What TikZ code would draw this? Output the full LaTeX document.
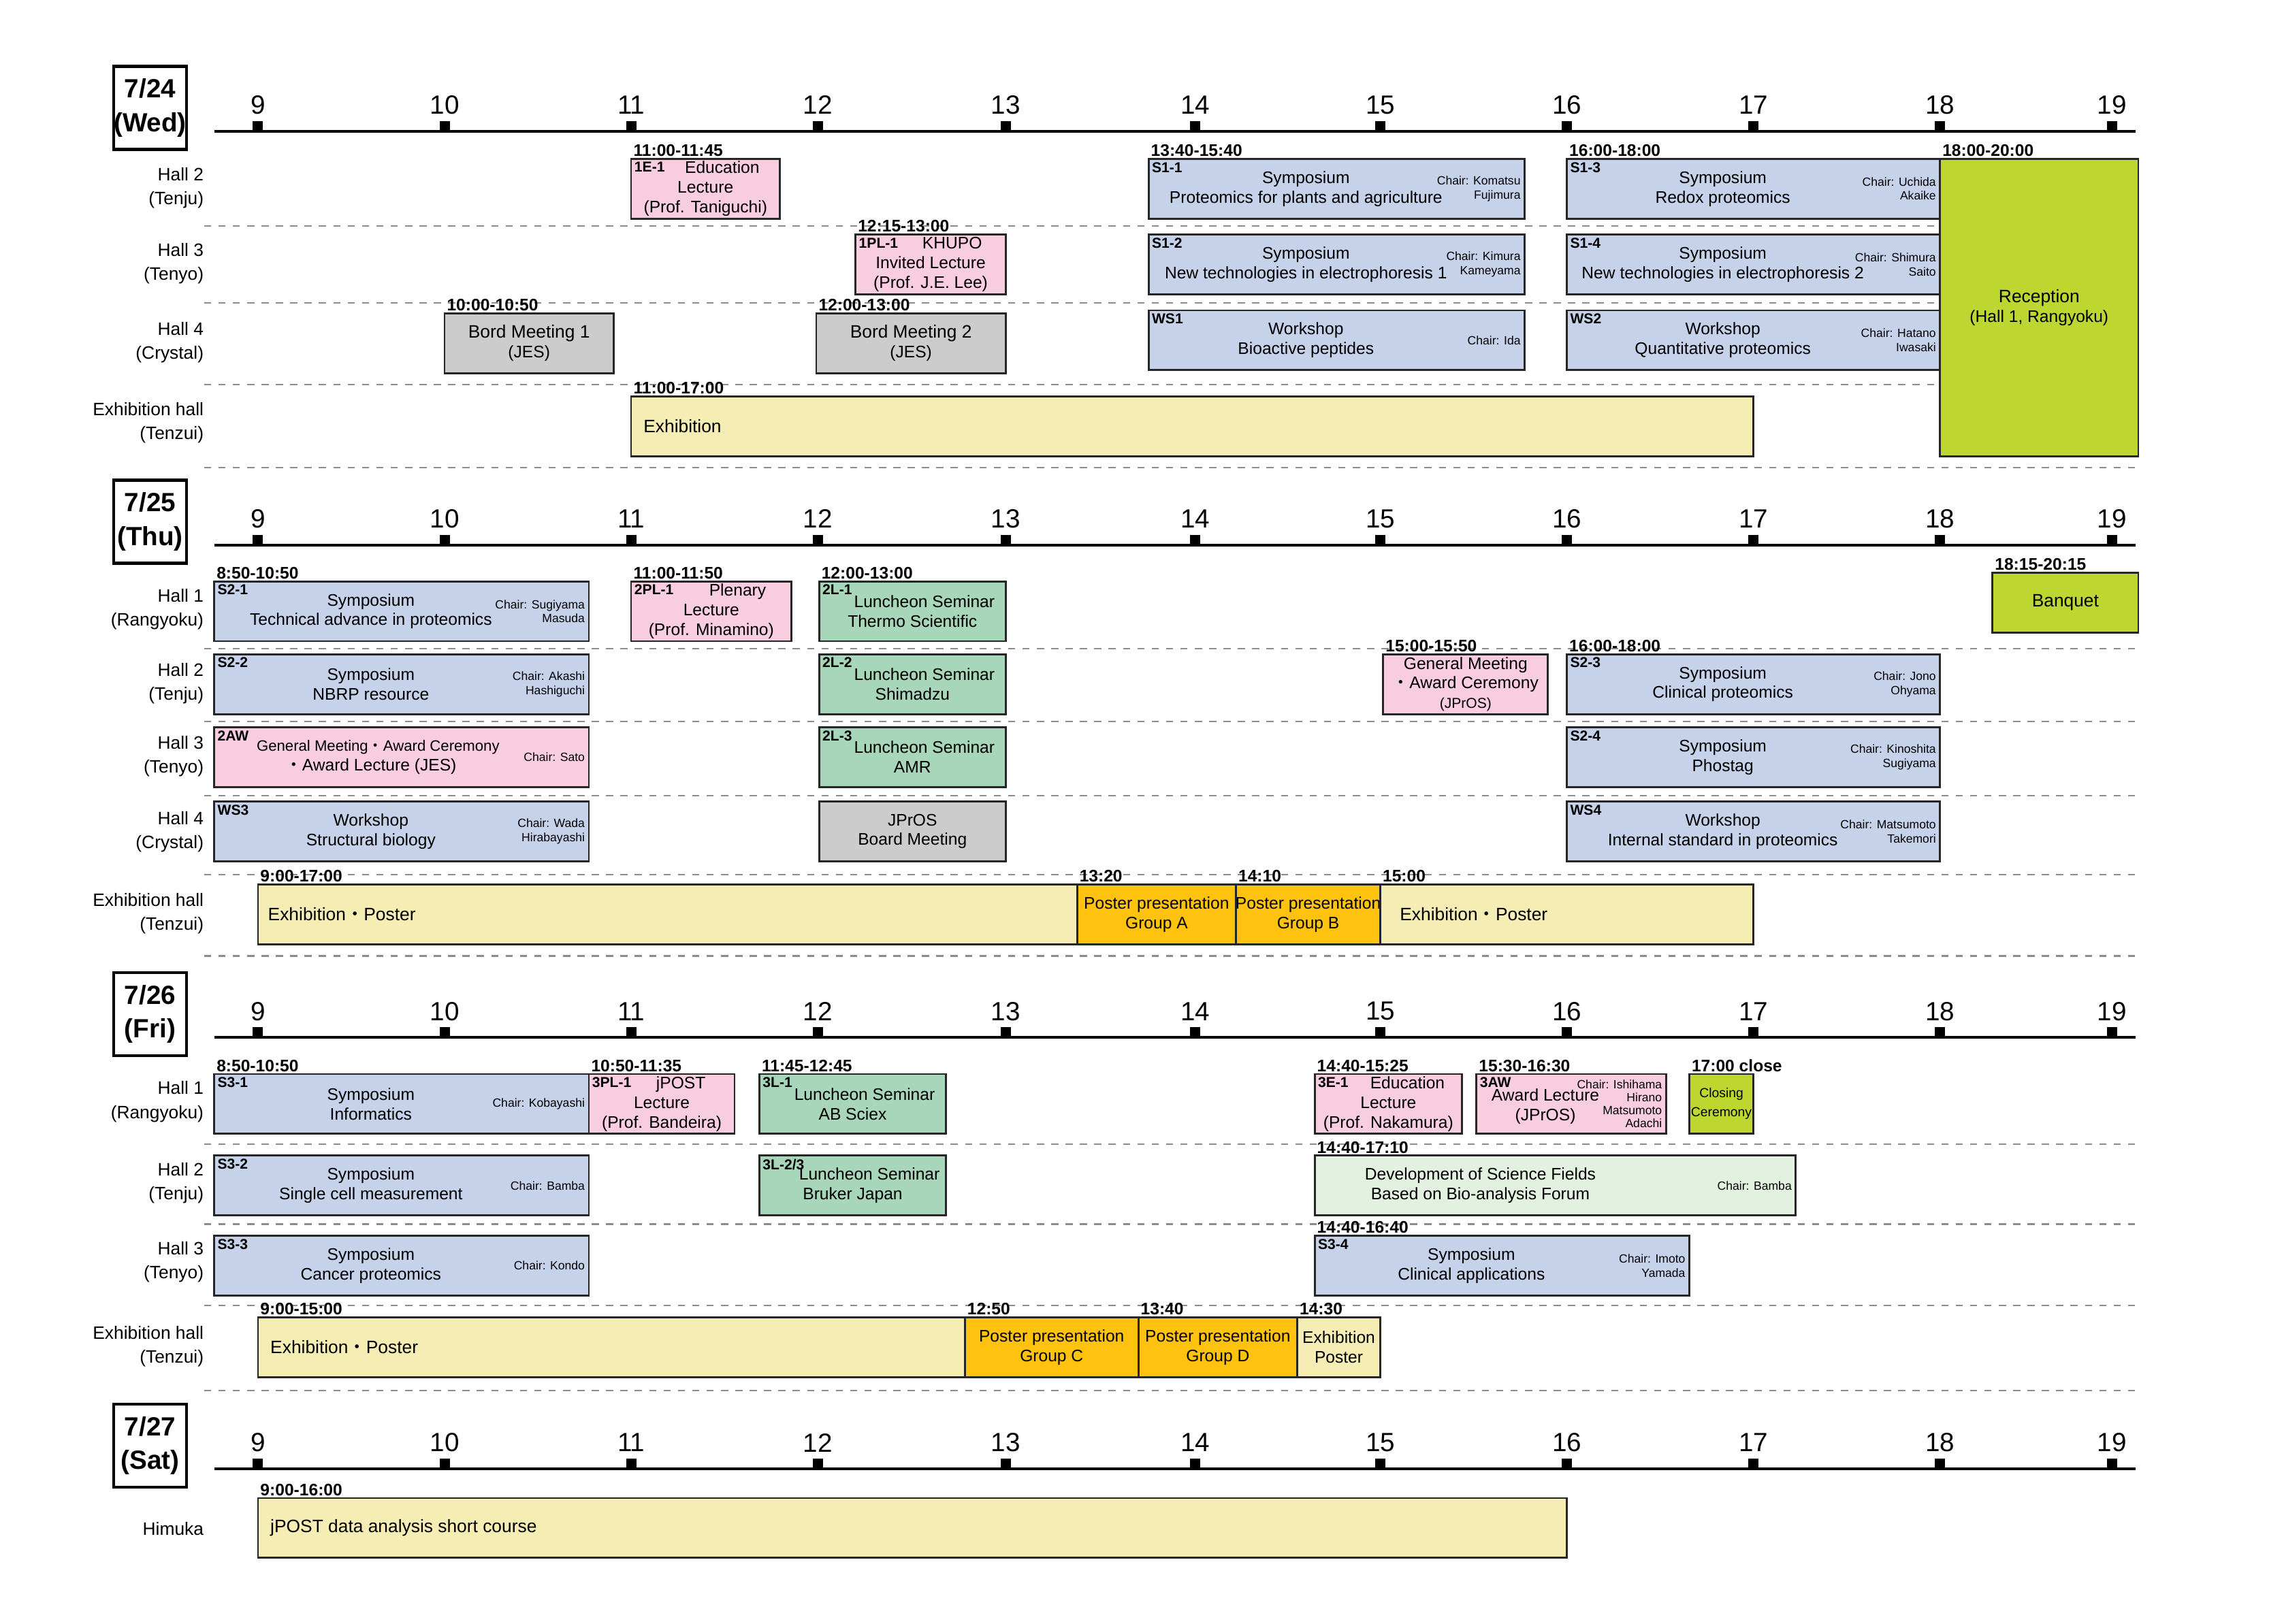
\documentclass[tikz,border=0pt]{standalone}
\usepackage{fontspec}
\setmainfont{Liberation Sans}
\newfontfamily\cjkf{Noto Sans CJK JP}
\newcommand\dt{{\cjkf ・}}
\definecolor{cblue}{HTML}{C6D2EA}
\definecolor{cpink}{HTML}{F8CDE0}
\definecolor{cgreen}{HTML}{A8D6BA}
\definecolor{cgray}{HTML}{CCCCCC}
\definecolor{cyel}{HTML}{F6EDB5}
\definecolor{corange}{HTML}{FFC20E}
\definecolor{clime}{HTML}{BED630}
\definecolor{clgreen}{HTML}{E3F1E1}
\tikzset{
 evbox/.style={draw=black!85,line width=0.8pt,inner sep=0,outer sep=0,anchor=north west,minimum height={41*0.02141cm}},
 blue/.style={fill=cblue},pink/.style={fill=cpink},green/.style={fill=cgreen},gray/.style={fill=cgray},
 yel/.style={fill=cyel},orange/.style={fill=corange},lime/.style={fill=clime},lgreen/.style={fill=clgreen},
 evtag/.style={anchor=north west,inner sep=1.2pt,font=\bfseries\fontsize{6}{7}\selectfont},
 evtext/.style={align=center,inner sep=0,font=\fontsize{7}{8.2}\selectfont},
 evchair/.style={anchor=east,align=right,inner sep=0,font=\fontsize{5}{5.9}\selectfont},
 evtime/.style={anchor=south west,inner sep=0.8pt,font=\bfseries\fontsize{7}{8}\selectfont},
 evleft/.style={anchor=west,inner sep=0,font=\fontsize{7.5}{9}\selectfont},
 rowlab/.style={anchor=east,align=right,inner sep=0,font=\fontsize{7.5}{10}\selectfont},
 hourlab/.style={inner sep=0,font=\fontsize{11}{12}\selectfont},
 datebox/.style={draw,line width=1.3pt,minimum width={50*0.02141cm},minimum height={57*0.02141cm},align=center,inner sep=0,font=\bfseries\fontsize{11}{14}\selectfont},
 sep/.style={draw=black!45,dashed,line width=0.6pt}
}
\newcommand\ev[9]{%
 \node[evbox,#5,minimum width={(#3-#2)*0.02141cm}] (#1) at (#2,#4) {};
 \node[evtag] (#1g) at (#1.north west) {#6};
 \def\chk{#8}%
 \ifx\chk\empty
  \node[evtext] (#1t) at (#1.center) {#7};
 \else
  \node[evtext,xshift=-0.45cm] (#1t) at (#1.center) {#7};
  \node[evchair] (#1c) at ([xshift=-1.5pt]#1.east) {#8};
 \fi
 \node[evtime] (#1m) at (#1.north west) {#9};}
\newcommand\dayhdr[4]{%
 \node[datebox] (#1d) at (103,#2-16) {#3\\(#4)};
 \coordinate (#1a) at (147,#2); \coordinate (#1b) at (1465,#2);
 \draw[line width=1.1pt] (#1a) -- (#1b);
 \foreach \x/\h in {177/9,305/10,433/11,561/12,690/13,820/14,947/15,1075/16,1203/17,1331/18,1449/19}{
  \node[hourlab] (#1h\h) at (\x,#2-18) {\h};
  \fill (\x-3.5,#2) rectangle (\x+3.5,#2-7);}}
\newcommand\sepl[2]{\coordinate (#1l) at (140,#2); \coordinate (#1r) at (1467,#2); \draw[sep] (#1l) -- (#1r);}
\begin{document}
\begin{tikzpicture}[x=0.02141cm,y=-0.02141cm]
\useasboundingbox[fill=white] (0,0) rectangle (1567,1114.4);
% ---------- Day 1
\dayhdr{A}{90}{7/24}{Wed}
\node[rowlab] (A1) at (140,129) {Hall 2\\(Tenju)};
\node[rowlab] (A2) at (140,181) {Hall 3\\(Tenyo)};
\node[rowlab] (A3) at (140,235) {Hall 4\\(Crystal)};
\node[rowlab] (A4) at (140,290) {Exhibition hall\\(Tenzui)};
\sepl{As1}{155}\sepl{As2}{208}\sepl{As3}{264}\sepl{As4}{321}
\ev{aEa}{433}{535}{109}{pink}{1E-1}{\hspace{14pt}Education\\Lecture\\(Prof. Taniguchi)}{}{11:00-11:45}
\ev{aSa}{788}{1046}{109}{blue}{S1-1}{Symposium\\Proteomics for plants and agriculture}{Chair: Komatsu\\Fujimura}{13:40-15:40}
\ev{aSc}{1075}{1331}{109}{blue}{S1-3}{Symposium\\Redox proteomics}{Chair: Uchida\\Akaike}{16:00-18:00}
\ev{aRc}{1331}{1467}{109}{lime,minimum height={204*0.02141cm}}{}{\fontsize{7.5}{9}\selectfont Reception\\(Hall 1, Rangyoku)}{}{18:00-20:00}
\ev{aPL}{587}{690}{161}{pink}{1PL-1}{\hspace{18pt}KHUPO\\Invited Lecture\\(Prof. J.E. Lee)}{}{12:15-13:00}
\ev{aSb}{788}{1046}{161}{blue}{S1-2}{Symposium\\New technologies in electrophoresis 1}{Chair: Kimura\\Kameyama}{}
\ev{aSd}{1075}{1331}{161}{blue}{S1-4}{Symposium\\New technologies in electrophoresis 2}{Chair: Shimura\\Saito}{}
\ev{aBa}{305}{421}{215}{gray}{}{\fontsize{7.5}{9}\selectfont Bord Meeting 1\\(JES)}{}{10:00-10:50}
\ev{aBb}{560}{690}{215}{gray}{}{\fontsize{7.5}{9}\selectfont Bord Meeting 2\\(JES)}{}{12:00-13:00}
\ev{aWa}{788}{1046}{213}{blue}{WS1}{Workshop\\Bioactive peptides}{Chair: Ida}{}
\ev{aWb}{1075}{1331}{213}{blue}{WS2}{Workshop\\Quantitative proteomics}{Chair: Hatano\\Iwasaki}{}
\ev{aEx}{433}{1203}{272}{yel}{}{}{}{11:00-17:00}
\node[evleft] (aExl) at ([xshift=5pt]aEx.west) {Exhibition};
% ---------- Day 2
\dayhdr{B}{374}{7/25}{Thu}
\node[rowlab] (B1) at (140,418) {Hall 1\\(Rangyoku)};
\node[rowlab] (B2) at (140,469) {Hall 2\\(Tenju)};
\node[rowlab] (B3) at (140,519) {Hall 3\\(Tenyo)};
\node[rowlab] (B4) at (140,571) {Hall 4\\(Crystal)};
\node[rowlab] (B5) at (140,627) {Exhibition hall\\(Tenzui)};
\sepl{Bs1}{445}\sepl{Bs2}{495}\sepl{Bs3}{546}\sepl{Bs4}{600}\sepl{Bs5}{656}
\ev{bSa}{147}{404}{399}{blue}{S2-1}{Symposium\\Technical advance in proteomics}{Chair: Sugiyama\\Masuda}{8:50-10:50}
\ev{bPL}{433}{543}{399}{pink}{2PL-1}{\hspace{22pt}Plenary\\Lecture\\(Prof. Minamino)}{}{11:00-11:50}
\ev{bLa}{562}{690}{399}{green}{2L-1}{\hspace{10pt}Luncheon Seminar\\Thermo Scientific}{}{12:00-13:00}
\ev{bBq}{1367}{1467}{393}{lime}{}{\fontsize{7.5}{9}\selectfont Banquet}{}{18:15-20:15}
\ev{bSb}{147}{404}{449}{blue}{S2-2}{Symposium\\NBRP resource}{Chair: Akashi\\Hashiguchi}{}
\ev{bLb}{562}{690}{449}{green}{2L-2}{\hspace{10pt}Luncheon Seminar\\Shimadzu}{}{}
\ev{bGM}{949}{1062}{449}{pink}{}{General Meeting\\\dt Award Ceremony\\{\fontsize{6}{7}\selectfont(JPrOS)}}{}{15:00-15:50}
\ev{bSc}{1075}{1331}{449}{blue}{S2-3}{Symposium\\Clinical proteomics}{Chair: Jono\\Ohyama}{16:00-18:00}
\ev{bAW}{147}{404}{499}{pink}{2AW}{\fontsize{6.3}{7.6}\selectfont\hspace{6pt}General Meeting\dt Award Ceremony\\\dt Award Lecture (JES)}{Chair: Sato}{}
\ev{bLc}{562}{690}{499}{green}{2L-3}{\hspace{10pt}Luncheon Seminar\\AMR}{}{}
\ev{bSd}{1075}{1331}{499}{blue}{S2-4}{Symposium\\Phostag}{Chair: Kinoshita\\Sugiyama}{}
\ev{bWa}{147}{404}{550}{blue}{WS3}{Workshop\\Structural biology}{Chair: Wada\\Hirabayashi}{}
\ev{bJB}{562}{690}{550}{gray}{}{JPrOS\\Board Meeting}{}{}
\ev{bWb}{1075}{1331}{550}{blue}{WS4}{Workshop\\Internal standard in proteomics}{Chair: Matsumoto\\Takemori}{}
\ev{bEa}{177}{739}{607}{yel}{}{}{}{9:00-17:00}
\node[evleft] (bEal) at ([xshift=4pt]bEa.west) {Exhibition\dt Poster};
\ev{bPA}{739}{848}{607}{orange}{}{Poster presentation\\Group A}{}{13:20}
\ev{bPB}{848}{947}{607}{orange}{}{Poster presentation\\Group B}{}{14:10}
\ev{bEb}{947}{1203}{607}{yel}{}{}{}{15:00}
\node[evleft] (bEbl) at ([xshift=8pt]bEb.west) {Exhibition\dt Poster};
% ---------- Day 3
\dayhdr{C}{712}{7/26}{Fri}
\node[rowlab] (C1) at (140,756) {Hall 1\\(Rangyoku)};
\node[rowlab] (C2) at (140,812) {Hall 2\\(Tenju)};
\node[rowlab] (C3) at (140,866) {Hall 3\\(Tenyo)};
\node[rowlab] (C4) at (140,924) {Exhibition hall\\(Tenzui)};
\sepl{Cs1}{785}\sepl{Cs2}{840}\sepl{Cs3}{896}\sepl{Cs4}{954}
\ev{cSa}{147}{404}{737}{blue}{S3-1}{Symposium\\Informatics}{Chair: Kobayashi}{8:50-10:50}
\ev{cPL}{404}{504}{737}{pink}{3PL-1}{\hspace{16pt}jPOST\\Lecture\\(Prof. Bandeira)}{}{10:50-11:35}
\ev{cLa}{521}{649}{737}{green}{3L-1}{\hspace{10pt}Luncheon Seminar\\AB Sciex}{}{11:45-12:45}
\ev{cEd}{902}{1003}{737}{pink}{3E-1}{\hspace{16pt}Education\\Lecture\\(Prof. Nakamura)}{}{14:40-15:25}
\node[evbox,pink,minimum width={130*0.02141cm}] (cAW) at (1013,737) {};
\node[evtag] (cAWg) at (cAW.north west) {3AW};
\node[evtext] (cAWt) at ([xshift=-0.38cm,yshift=-1pt]cAW.center) {Award Lecture\\(JPrOS)};
\node[evchair,font=\fontsize{5}{5.4}\selectfont] (cAWc) at ([xshift=-1.5pt]cAW.east) {Chair: Ishihama\\Hirano\\Matsumoto\\Adachi};
\node[evtime] (cAWm) at (cAW.north west) {15:30-16:30};
\node[evbox,lime,minimum width={44*0.02141cm}] (cCl) at (1159,737) {};
\node[evtext,font=\fontsize{5.5}{8}\selectfont] (cClt) at (cCl.center) {Closing\\Ceremony};
\node[evtime] (cClm) at (cCl.north west) {17:00 close};
\ev{cSb}{147}{404}{793}{blue}{S3-2}{Symposium\\Single cell measurement}{Chair: Bamba}{}
\ev{cLb}{521}{649}{793}{green}{3L-2/3}{\hspace{14pt}Luncheon Seminar\\Bruker Japan}{}{}
\node[evbox,lgreen,minimum width={330*0.02141cm}] (cDv) at (902,793) {};
\node[evtext] (cDvt) at ([xshift=-1.1cm]cDv.center) {Development of Science Fields\\Based on Bio-analysis Forum};
\node[evchair] (cDvc) at ([xshift=-1.5pt]cDv.east) {Chair: Bamba};
\node[evtime] (cDvm) at (cDv.north west) {14:40-17:10};
\ev{cSc}{147}{404}{848}{blue}{S3-3}{Symposium\\Cancer proteomics}{Chair: Kondo}{}
\ev{cSd}{902}{1159}{848}{blue}{S3-4}{Symposium\\Clinical applications}{Chair: Imoto\\Yamada}{14:40-16:40}
\ev{cEa}{177}{662}{904}{yel}{}{}{}{9:00-15:00}
\node[evleft] (cEal) at ([xshift=5pt]cEa.west) {Exhibition\dt Poster};
\ev{cPC}{662}{781}{904}{orange}{}{Poster presentation\\Group C}{}{12:50}
\ev{cPD}{781}{890}{904}{orange}{}{Poster presentation\\Group D}{}{13:40}
\ev{cEb}{890}{947}{904}{yel}{}{Exhibition\\Poster}{}{14:30}
% ---------- Day 4
\dayhdr{D}{1008}{7/27}{Sat}
\node[rowlab] (D1) at (140,1049) {Himuka};
\ev{dJP}{177}{1075}{1028}{yel}{}{}{}{9:00-16:00}
\node[evleft] (dJPl) at ([xshift=5pt]dJP.west) {jPOST data analysis short course};
\end{tikzpicture}
\end{document}
